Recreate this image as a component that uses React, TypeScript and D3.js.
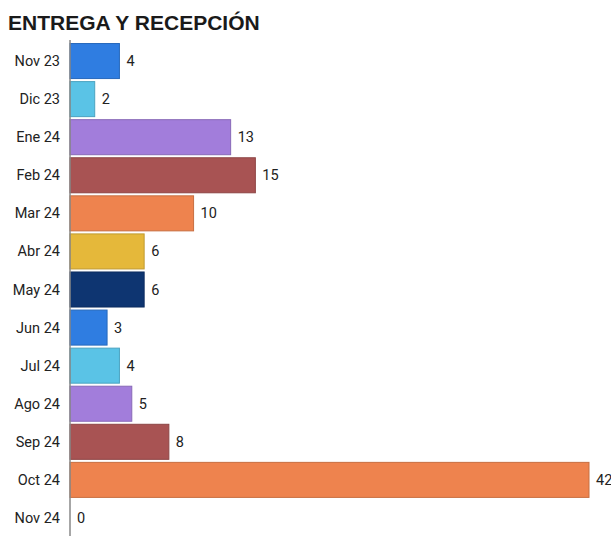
import React from "react";
import * as d3 from "d3";

const categories = ["Nov 23","Dic 23","Ene 24","Feb 24","Mar 24","Abr 24","May 24","Jun 24","Jul 24","Ago 24","Sep 24","Oct 24","Nov 24"];
const values = [4,2,13,15,10,6,6,3,4,5,8,42,0];
const colors = ["#2f7de1","#5ac3e6","#a27ddb","#a85353","#ee834e","#e5b83a","#0e3571","#2f7de1","#5ac3e6","#a27ddb","#a85353","#ee834e","#2f7de1"];
const title = "ENTREGA Y RECEPCIÓN";

export default function App() {
  const W = 611, H = 536;
  const x0 = 70;
  const x = d3.scaleLinear().domain([0, 42]).range([x0, 589]);
  const y = d3.scaleBand().domain(categories).range([42, 537]).paddingInner(0.08).paddingOuter(0.04);
  return (
    <svg width={W} height={H} style={{ position: "absolute", left: 0, top: 0, background: "#fff" }}>
      <text x={8} y={30} fontFamily="Liberation Sans, Arial, sans-serif" fontWeight="bold" fontSize={21} fill="#1a1a1a">{title}</text>
      {categories.map((c, i) => {
        const yy = y(c)!;
        const bw = y.bandwidth();
        const c0 = d3.color(colors[i])!.darker(0.5).toString();
        return (
          <g key={c}>
            {values[i] > 0 && (
              <rect x={x(0)} y={yy} width={x(values[i]) - x(0)} height={bw} fill={colors[i]} stroke={c0} strokeWidth={1} />
            )}
            <text x={60} y={yy + bw / 2} dy="0.35em" textAnchor="end" fontFamily="Roboto, sans-serif" fontSize={14.5} fill="#222">{c}</text>
            <text x={x(values[i]) + 7} y={yy + bw / 2} dy="0.35em" fontFamily="Roboto, sans-serif" fontSize={14.5} fill="#222">{values[i]}</text>
          </g>
        );
      })}
      <line x1={x0} x2={x0} y1={40} y2={536} stroke="#888" strokeWidth={1.5} />
    </svg>
  );
}
